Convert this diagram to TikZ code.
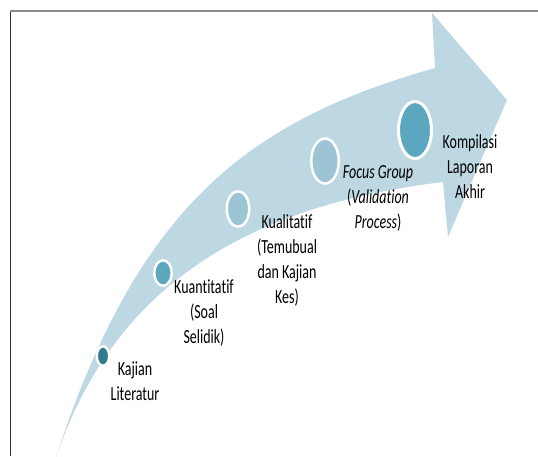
\documentclass[tikz,border=0pt]{standalone}
\usepackage{fontspec}
\setmainfont{Carlito}[Ligatures={NoCommon,NoContextual}]
\usepackage{tikz}
\usetikzlibrary{shapes.geometric}

\definecolor{shaft}{RGB}{189,216,226}
\definecolor{dotdark}{RGB}{47,123,145}
\definecolor{dotmid}{RGB}{91,167,192}
\definecolor{dotpale}{RGB}{157,196,212}

\tikzset{
	stage/.style={ellipse, draw=white, line width=2.5pt, inner sep=0pt},
	lbl/.style={align=center, inner sep=0pt, text=black,
		font=\fontsize{14}{17.5}\selectfont, yscale=1.43, transform shape}
}

\begin{document}
\begin{tikzpicture}[x=1pt, y=-1pt]
		\useasboundingbox (0,0) rectangle (538,456);
		\coordinate (T) at (55,460);
		\coordinate (S1) at (435,68);
		\coordinate (H1) at (432,13);
		\coordinate (H2) at (507,100);
		\coordinate (H3) at (448,237);
		\coordinate (S2) at (443,182);
		\fill[shaft] (T) .. controls (136,211) and (243,122) .. (S1) -- (H1) -- (H2) -- (H3) -- (S2)
		.. controls (245,206) and (113,287) .. (T) -- cycle;
		\draw[black!80, line width=1.5pt] (10.7,456) -- (10.7,11);
		\draw[black!45, line width=2.5pt] (10,11.2) -- (538,11.2);
		\node[stage, fill=dotdark, minimum width=12.5, minimum height=19.5] (c1) at (103,356) {};
		\node[stage, fill=dotmid, minimum width=17.5, minimum height=25.5] (c2) at (163,273) {};
		\node[stage, fill=dotpale, minimum width=22.5, minimum height=35.5] (c3) at (238,209) {};
		\node[stage, fill=dotpale, minimum width=27.5, minimum height=45] (c4) at (325,161) {};
		\node[stage, fill=dotmid, line width=3pt, minimum width=33, minimum height=57] (c5) at (415,130) {};
		\node[lbl] (l1) at (135,381) {Kajian\\Literatur};
		\node[lbl] (l2) at (204,313) {Kuantitatif\\(Soal\\Selidik)};
		\node[lbl] (l3) at (287,260) {Kualitatif\\(Temubual\\dan Kajian\\Kes)};
		\node[lbl] (l4) at (378,198) {\textit{Focus Group}\\(\textit{Validation}\\\textit{Process})};
		\node[lbl] (l5) at (470,167) {Kompilasi\\Laporan\\Akhir};
\end{tikzpicture}
\end{document}
